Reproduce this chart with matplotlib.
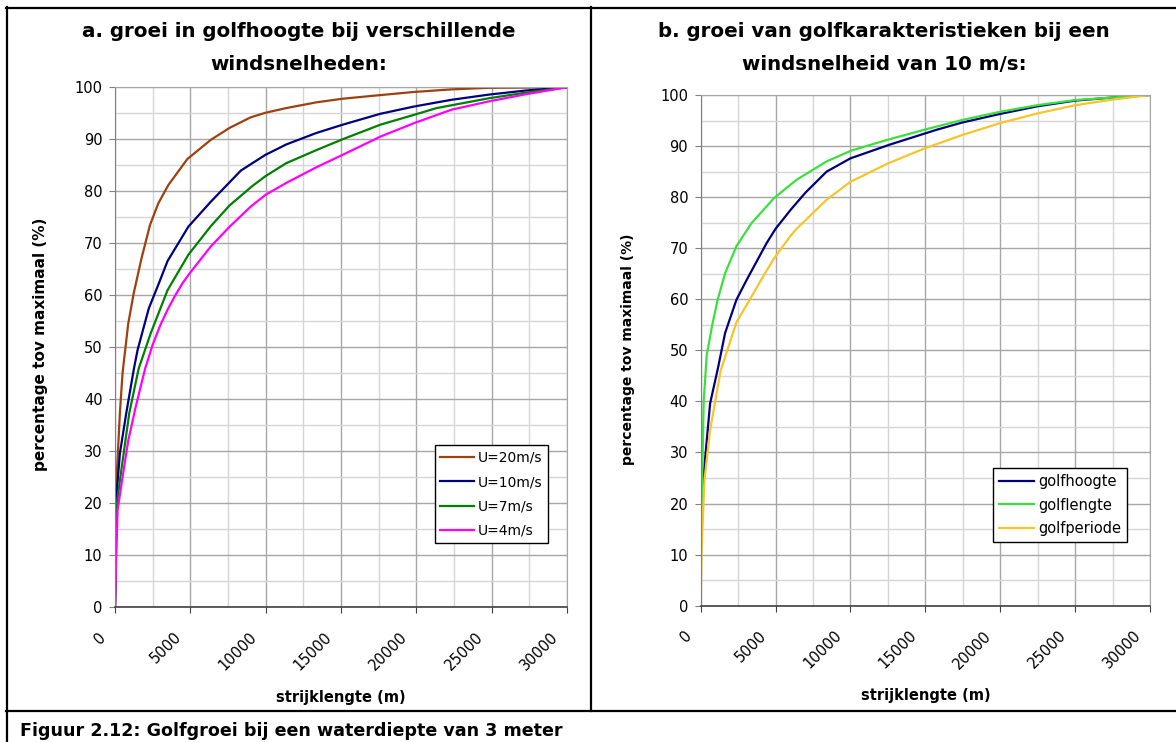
import matplotlib
matplotlib.use("Agg")
import matplotlib.pyplot as plt
from matplotlib.lines import Line2D
from matplotlib.transforms import ScaledTranslation

W, H = 1176, 742

# --- data --------------------------------------------------------------
# a. golfhoogte bij verschillende windsnelheden
x_u20 = [0, 125, 325, 500, 875, 1250, 1750, 2320, 2876, 3540, 4800, 6360, 7610,
         8985, 9980, 11360, 13350, 15100, 17600, 19840, 22340, 24830, 30000]
y_u20 = [0, 25.9, 37.4, 45.0, 54.5, 60.5, 67.0, 73.5, 77.7, 81.2, 86.2, 89.9, 92.2,
         94.2, 95.1, 96.0, 97.1, 97.8, 98.5, 99.1, 99.6, 99.9, 100]

x_u10 = [0, 75, 325, 750, 1250, 1500, 2245, 2870, 3490, 4870, 6360, 8360, 9980,
         11360, 13350, 15100, 17600, 19840, 22340, 24830, 27330, 30000]
y_u10 = [0, 20.7, 29.6, 37.4, 45.8, 49.5, 57.5, 62.0, 66.6, 73.2, 78.0, 84.0, 87.0,
         89.0, 91.2, 92.8, 94.9, 96.3, 97.6, 98.6, 99.4, 100]

x_u7 = [0, 125, 425, 950, 1570, 2370, 3490, 4870, 6360, 7610, 9110, 9980, 11360,
        13350, 15100, 17600, 19840, 21340, 24830, 27330, 30000]
y_u7 = [0, 20.0, 26.5, 37.4, 45.9, 52.7, 61.0, 67.8, 73.3, 77.3, 81.0, 82.9, 85.4,
        87.9, 90.0, 92.8, 94.7, 96.0, 97.9, 99.0, 100]

x_u4 = [0, 75, 175, 500, 875, 1370, 2000, 2500, 3000, 3500, 4000, 4500, 5000,
        6360, 7610, 8985, 9980, 11360, 13350, 15100, 17600, 19840, 22340, 24830,
        27330, 30000]
y_u4 = [0, 9.8, 18.8, 25.0, 32.0, 38.5, 45.9, 50.5, 54.2, 57.3, 60.0, 62.4, 64.4,
        69.4, 73.2, 77.0, 79.3, 81.6, 84.6, 87.0, 90.5, 93.1, 95.7, 97.3, 98.7, 100]

labels_a = ["U=20m/s", "U=10m/s", "U=7m/s", "U=4m/s"]
colors_a = ["#A0400F", "#000080", "#008000", "#FF00FF"]

# b. golfkarakteristieken bij U = 10 m/s
x_hoogte = [0, 30, 326, 628, 1150, 1630, 2385, 3070, 4400, 5000, 6000, 7000, 8410,
            10000, 12640, 15760, 17450, 20000, 22500, 25000, 27500, 30000]
y_hoogte = [0, 20.0, 29.8, 39.6, 46.5, 53.4, 59.9, 63.8, 71.0, 73.8, 77.5, 80.9, 85.0,
            87.6, 90.3, 93.2, 94.6, 96.3, 97.8, 98.9, 99.5, 100]

x_lengte = [0, 30, 200, 400, 753, 1130, 1630, 2385, 3390, 4895, 6400, 8410, 10040,
            12430, 14940, 17450, 19960, 22470, 24980, 27490, 30000]
y_lengte = [0, 15.0, 40.0, 49.0, 54.7, 59.9, 65.1, 70.4, 74.9, 79.8, 83.4, 87.0, 89.1,
            91.2, 93.2, 95.1, 96.7, 98.0, 99.0, 99.5, 100]

x_periode = [0, 50, 250, 628, 1330, 2385, 3390, 4073, 4895, 5963, 6400, 8410, 10000,
             12500, 15000, 17500, 20000, 22500, 25000, 27500, 30000]
y_periode = [0, 10.3, 24.6, 34.4, 46.0, 55.5, 60.5, 64.0, 68.0, 72.3, 73.8, 79.5, 83.0,
             86.6, 89.6, 92.2, 94.5, 96.4, 98.0, 99.1, 100]

labels_b = ["golfhoogte", "golflengte", "golfperiode"]
colors_b = ["#000080", "#3CE03C", "#F7C52A"]

x_ticks = [0, 5000, 10000, 15000, 20000, 25000, 30000]
y_ticks = [0, 10, 20, 30, 40, 50, 60, 70, 80, 90, 100]

titel_a = ["a. groei in golfhoogte bij verschillende", "windsnelheden:"]
titel_b = ["b. groei van golfkarakteristieken bij een", "windsnelheid van 10 m/s:"]
xlabel = "strijklengte (m)"
ylabel = "percentage tov maximaal (%)"
bijschrift = "Figuur 2.12: Golfgroei bij een waterdiepte van 3 meter"


def px_box(left, top, right, bottom):
    return [left / W, 1 - bottom / H, (right - left) / W, (bottom - top) / H]


def opmaak_as(ax, ylab_fs):
    ax.set_xlim(0, 30000)
    ax.set_ylim(0, 100)
    ax.set_xticks(x_ticks)
    ax.set_xticks(range(2500, 30000, 5000), minor=True)
    ax.set_yticks(y_ticks)
    ax.set_yticks(range(5, 100, 10), minor=True)
    ax.grid(which="major", color="#a6a6a6", linewidth=1.0)
    ax.grid(which="minor", color="#d6d6d6", linewidth=1.0)
    ax.set_axisbelow(True)
    ax.tick_params(which="minor", length=0)
    ax.tick_params(axis="y", which="major", length=4, color="#808080",
                   labelsize=10.5, pad=5)
    ax.tick_params(axis="x", which="major", length=4, color="#404040",
                   labelsize=10.5, pad=12)
    ax.set_xticklabels([str(t) for t in x_ticks], rotation=45, ha="right")
    verschuif = ScaledTranslation(-6 / 100, 0, ax.figure.dpi_scale_trans)
    for lab in ax.get_xticklabels():
        lab.set_transform(lab.get_transform() + verschuif)
    for kant in ["top", "right"]:
        ax.spines[kant].set_color("#a6a6a6")
    ax.spines["left"].set_color("#808080")
    ax.spines["bottom"].set_color("#404040")
    ax.spines["bottom"].set_linewidth(1.2)
    ax.set_xlabel(xlabel, fontsize=10.5, fontweight="bold")
    ax.set_ylabel(ylabel, fontsize=ylab_fs, fontweight="bold")


fig = plt.figure(figsize=(W / 100, H / 100), dpi=100)

# panel a
ax_a = fig.add_axes(px_box(115, 87.3, 567, 607.3))
for xs, ys, lab, kleur in zip([x_u20, x_u10, x_u7, x_u4], [y_u20, y_u10, y_u7, y_u4],
                              labels_a, colors_a):
    ax_a.plot(xs, ys, color=kleur, linewidth=1.6, label=lab)
opmaak_as(ax_a, 11)
ax_a.xaxis.set_label_coords(0.5, -0.159)
ax_a.yaxis.set_label_coords(-0.148, 0.505)
ax_a.legend(loc="upper right", bbox_to_anchor=(0.958, 0.312), borderaxespad=0,
            fontsize=10, frameon=True, fancybox=False, edgecolor="#000000",
            framealpha=1, handlelength=2.4, handletextpad=0.3, labelspacing=0.75,
            borderpad=0.4).get_frame().set_linewidth(1.0)

# panel b
ax_b = fig.add_axes(px_box(700.7, 95, 1150, 605.7))
for xs, ys, lab, kleur in zip([x_hoogte, x_lengte, x_periode],
                              [y_hoogte, y_lengte, y_periode], labels_b, colors_b):
    ax_b.plot(xs, ys, color=kleur, linewidth=1.6, label=lab)
opmaak_as(ax_b, 10)
ax_b.xaxis.set_label_coords(0.5, -0.161)
ax_b.yaxis.set_label_coords(-0.146, 0.503)
ax_b.legend(loc="upper right", bbox_to_anchor=(0.949, 0.2696), borderaxespad=0,
            fontsize=10.5, frameon=True, fancybox=False, edgecolor="#000000",
            framealpha=1, handlelength=2.4, handletextpad=0.3, labelspacing=0.6,
            borderpad=0.4).get_frame().set_linewidth(1.0)

# titels
for i, regel in enumerate(titel_a):
    fig.text(299 / W, 1 - (31.5 + 33 * i) / H, regel, ha="center", va="center",
             fontsize=14.3, fontweight="bold")
for i, regel in enumerate(titel_b):
    fig.text(884 / W, 1 - (31.5 + 33 * i) / H, regel, ha="center", va="center",
             fontsize=14.3, fontweight="bold")

# kaders rond de panelen
kader = [
    ([6, 1176], [7.5, 7.5]),
    ([6.5, 6.5], [7, 742]),
    ([591, 591], [7, 711]),
    ([6, 1176], [711, 711]),
]
for xs, ys in kader:
    fig.add_artist(Line2D([x / W for x in xs], [1 - y / H for y in ys],
                          transform=fig.transFigure, color="black", linewidth=1.6))

fig.text(20 / W, 1 - 731 / H, bijschrift, ha="left", va="center",
         fontsize=12.6, fontweight="bold")

fig.savefig("out.png", dpi=100)
